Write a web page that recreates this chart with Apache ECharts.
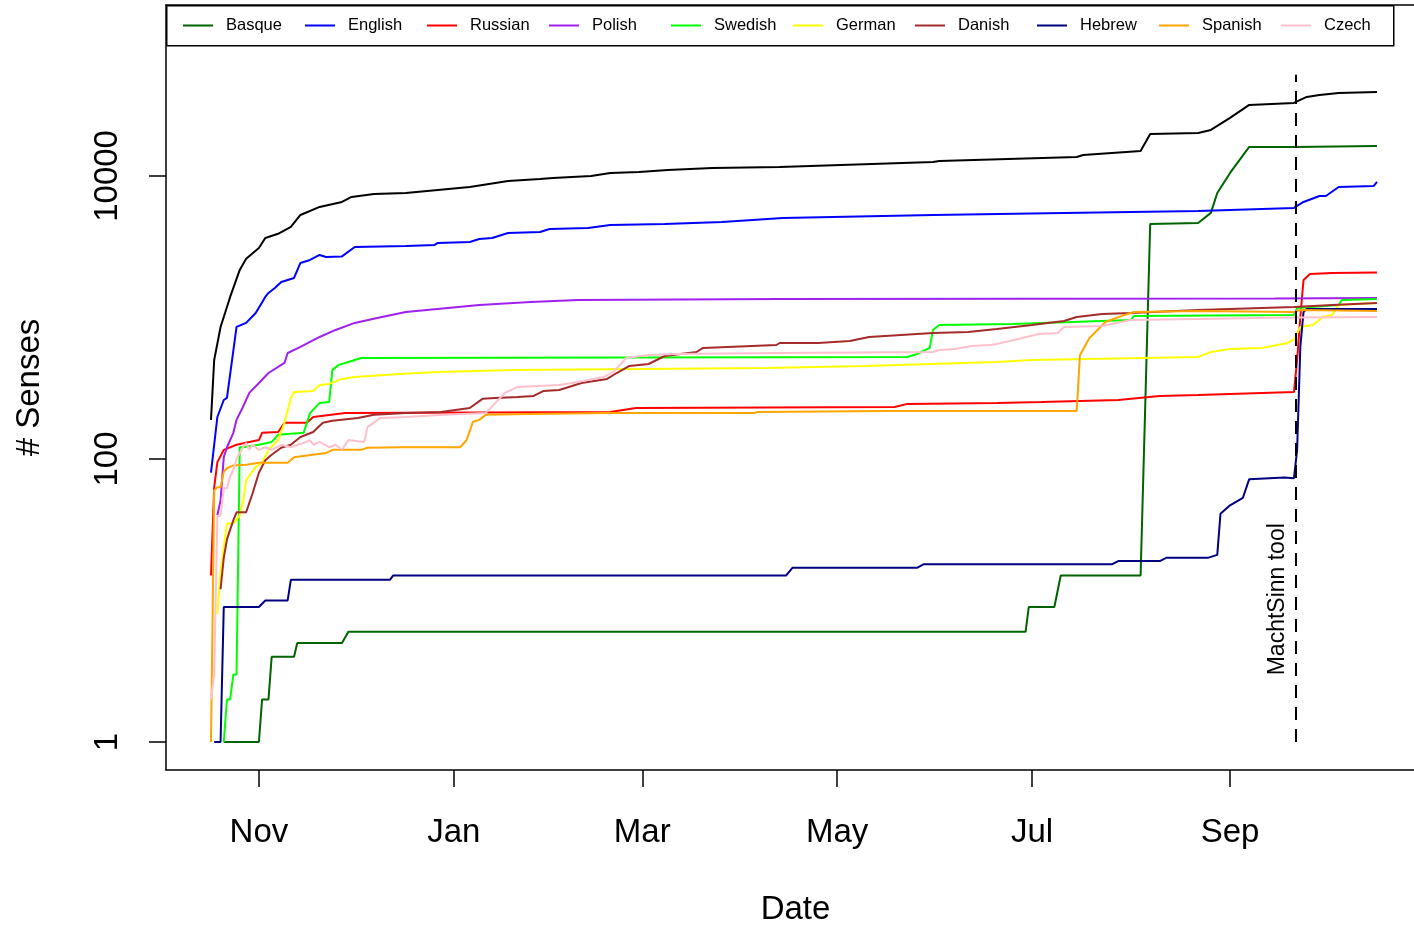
<!DOCTYPE html>
<html>
<head>
<meta charset="utf-8">
<script src="https://cdn.jsdelivr.net/npm/echarts@6/dist/echarts.min.js"></script>
<style>
  html, body { margin: 0; padding: 0; background: #fff; }
  #chart { width: 1414px; height: 925px; }
</style>
</head>
<body>
<div id="chart"></div>
<script>
// ticks
var xTicks = ['2018-11-01', '2019-01-01', '2019-03-01', '2019-05-01', '2019-07-01', '2019-09-01']
var xTickLabels = ['Nov', 'Jan', 'Mar', 'May', 'Jul', 'Sep']
var yTicks = [1, 100, 10000]

// annotation
var machtSinnDate = '2019-09-21T16:00:00'
var machtSinnText = 'MachtSinn tool'

// cumulative senses per day
var total = [['2018-10-17', 189], ['2018-10-18', 500], ['2018-10-20', 857], ['2018-10-23', 1396], ['2018-10-26', 2166],
  ['2018-10-28', 2600], ['2018-11-01', 3098], ['2018-11-03', 3645], ['2018-11-07', 3900], ['2018-11-11', 4360],
  ['2018-11-14', 5300], ['2018-11-20', 6040], ['2018-11-27', 6550], ['2018-11-30', 7110], ['2018-12-07', 7460],
  ['2018-12-17', 7580], ['2018-12-27', 7960], ['2019-01-06', 8360], ['2019-01-14', 8930], ['2019-01-18', 9220],
  ['2019-01-28', 9520], ['2019-02-01', 9680], ['2019-02-13', 10000], ['2019-02-19', 10500], ['2019-02-28', 10670],
  ['2019-03-09', 11030], ['2019-03-23', 11390], ['2019-04-13', 11580], ['2019-05-31', 12560], ['2019-06-02', 12770],
  ['2019-07-15', 13620], ['2019-07-17', 14070], ['2019-08-04', 15030], ['2019-08-07', 19800], ['2019-08-22', 20130],
  ['2019-08-26', 21130], ['2019-09-01', 25700], ['2019-09-07', 31750], ['2019-09-21', 32800], ['2019-09-25', 36150],
  ['2019-09-29', 37350], ['2019-10-05', 38620], ['2019-10-17', 39250]]

var basque = [['2018-10-21', 1], ['2018-11-01', 1], ['2018-11-02', 2], ['2018-11-04', 2], ['2018-11-05', 4],
  ['2018-11-12', 4], ['2018-11-13', 5], ['2018-11-27', 5], ['2018-11-29', 6], ['2019-06-29', 6],
  ['2019-06-30', 9], ['2019-07-08', 9], ['2019-07-10', 15], ['2019-08-04', 15], ['2019-08-07', 4580],
  ['2019-08-22', 4655], ['2019-08-26', 5480], ['2019-08-28', 7580], ['2019-09-01', 10500], ['2019-09-07', 16030],
  ['2019-09-21', 16030], ['2019-10-17', 16300]]

var english = [['2018-10-17', 80], ['2018-10-19', 198], ['2018-10-21', 261], ['2018-10-22', 270], ['2018-10-25', 857],
  ['2018-10-28', 915], ['2018-10-31', 1076], ['2018-11-03', 1396], ['2018-11-04', 1490], ['2018-11-06', 1616],
  ['2018-11-08', 1782], ['2018-11-12', 1901], ['2018-11-14', 2427], ['2018-11-17', 2549], ['2018-11-20', 2766],
  ['2018-11-22', 2677], ['2018-11-27', 2700], ['2018-12-01', 3149], ['2018-12-17', 3200], ['2018-12-26', 3253],
  ['2018-12-27', 3362], ['2019-01-06', 3417], ['2019-01-09', 3588], ['2019-01-13', 3645], ['2019-01-18', 3955],
  ['2019-01-28', 4020], ['2019-01-31', 4220], ['2019-02-12', 4292], ['2019-02-19', 4505], ['2019-03-08', 4580],
  ['2019-03-26', 4730], ['2019-04-14', 5048], ['2019-05-31', 5300], ['2019-07-11', 5480], ['2019-08-22', 5660],
  ['2019-09-21', 5940], ['2019-09-24', 6550], ['2019-09-29', 7220], ['2019-10-01', 7220], ['2019-10-05', 8360],
  ['2019-10-16', 8500], ['2019-10-17', 9070]]

var russian = [['2018-10-17', 15], ['2018-10-18', 63], ['2018-10-19', 95], ['2018-10-21', 116], ['2018-10-25', 126],
  ['2018-10-29', 132], ['2018-11-01', 136], ['2018-11-02', 153], ['2018-11-07', 155], ['2018-11-09', 180],
  ['2018-11-16', 180], ['2018-11-18', 198], ['2018-11-28', 211], ['2019-02-19', 215], ['2019-02-27', 229],
  ['2019-05-19', 233], ['2019-05-23', 245], ['2019-06-20', 249], ['2019-07-04', 253], ['2019-07-28', 261],
  ['2019-08-10', 279], ['2019-08-22', 283], ['2019-09-21', 297], ['2019-09-22', 501], ['2019-09-23', 1008],
  ['2019-09-24', 1841], ['2019-09-26', 2030], ['2019-10-03', 2063], ['2019-10-17', 2080]]

var polish = [['2018-10-19', 40], ['2018-10-20', 51], ['2018-10-21', 103], ['2018-10-22', 121], ['2018-10-24', 153],
  ['2018-10-25', 189], ['2018-10-27', 233], ['2018-10-29', 293], ['2018-11-01', 344], ['2018-11-04', 405],
  ['2018-11-09', 477], ['2018-11-10', 561], ['2018-11-14', 619], ['2018-11-20', 728], ['2018-11-25', 816],
  ['2018-12-01', 915], ['2018-12-08', 992], ['2018-12-17', 1094], ['2019-01-09', 1225], ['2019-01-25', 1288],
  ['2019-02-09', 1330], ['2019-04-13', 1352], ['2019-09-15', 1360], ['2019-10-17', 1370]]

var swedish = [['2018-10-21', 1], ['2018-10-22', 2], ['2018-10-23', 2], ['2018-10-24', 3], ['2018-10-25', 3],
  ['2018-10-26', 121], ['2018-10-27', 121], ['2018-11-01', 126], ['2018-11-05', 132], ['2018-11-07', 148],
  ['2018-11-15', 153], ['2018-11-17', 211], ['2018-11-20', 249], ['2018-11-23', 253], ['2018-11-24', 426],
  ['2018-11-26', 462], ['2018-11-29', 485], ['2018-12-03', 517], ['2019-05-23', 526], ['2019-05-26', 552],
  ['2019-05-30', 609], ['2019-05-31', 816], ['2019-06-02', 885], ['2019-06-25', 900], ['2019-08-01', 960],
  ['2019-08-02', 1025], ['2019-09-21', 1042], ['2019-09-22', 1167], ['2019-10-05', 1225], ['2019-10-06', 1330],
  ['2019-10-17', 1352]]

var german = [['2018-10-19', 8], ['2018-10-20', 16], ['2018-10-22', 35], ['2018-10-24', 35], ['2018-10-26', 40],
  ['2018-10-27', 49], ['2018-10-28', 71], ['2018-10-31', 88], ['2018-11-02', 94], ['2018-11-04', 116],
  ['2018-11-07', 136], ['2018-11-09', 180], ['2018-11-11', 270], ['2018-11-12', 297], ['2018-11-18', 302],
  ['2018-11-20', 333], ['2018-11-23', 339], ['2018-11-27', 368], ['2018-12-01', 380], ['2018-12-15', 399],
  ['2018-12-27', 412], ['2019-01-20', 426], ['2019-04-09', 440], ['2019-05-10', 454], ['2019-06-20', 485],
  ['2019-07-01', 501], ['2019-08-22', 526], ['2019-08-26', 570], ['2019-09-01', 599], ['2019-09-11', 609],
  ['2019-09-19', 660], ['2019-09-21', 700], ['2019-09-23', 857], ['2019-09-27', 885], ['2019-09-30', 1008],
  ['2019-10-03', 1042], ['2019-10-05', 1225], ['2019-10-17', 1266]]

var danish = [['2018-10-20', 12], ['2018-10-21', 20], ['2018-10-22', 27], ['2018-10-24', 37], ['2018-10-25', 42],
  ['2018-10-28', 42], ['2018-10-30', 57], ['2018-11-01', 80], ['2018-11-03', 98], ['2018-11-05', 107],
  ['2018-11-08', 120], ['2018-11-11', 126], ['2018-11-14', 143], ['2018-11-18', 155], ['2018-11-21', 180],
  ['2018-11-24', 186], ['2018-12-02', 195], ['2018-12-07', 205], ['2018-12-17', 211], ['2018-12-28', 215],
  ['2019-01-06', 229], ['2019-01-10', 266], ['2019-01-14', 270], ['2019-01-21', 274], ['2019-01-26', 279],
  ['2019-01-29', 302], ['2019-02-03', 307], ['2019-02-10', 344], ['2019-02-18', 368], ['2019-02-21', 405],
  ['2019-02-25', 454], ['2019-03-03', 469], ['2019-03-08', 534], ['2019-03-18', 570], ['2019-03-20', 609],
  ['2019-04-12', 639], ['2019-04-13', 660], ['2019-04-25', 660], ['2019-05-05', 682], ['2019-05-11', 728],
  ['2019-05-31', 777], ['2019-06-11', 790], ['2019-06-20', 829], ['2019-07-01', 885], ['2019-07-11', 945],
  ['2019-07-15', 1008], ['2019-07-23', 1059], ['2019-08-01', 1076], ['2019-08-22', 1130], ['2019-09-21', 1187],
  ['2019-10-03', 1225], ['2019-10-17', 1266]]

var hebrew = [['2018-10-18', 1], ['2018-10-20', 1], ['2018-10-21', 9], ['2018-11-01', 9], ['2018-11-03', 10],
  ['2018-11-10', 10], ['2018-11-11', 14], ['2018-12-12', 14], ['2018-12-13', 15], ['2019-04-15', 15],
  ['2019-04-17', 17], ['2019-05-26', 17], ['2019-05-28', 18], ['2019-07-26', 18], ['2019-07-28', 19],
  ['2019-08-10', 19], ['2019-08-12', 20], ['2019-08-25', 20], ['2019-08-28', 21], ['2019-08-29', 41],
  ['2019-09-01', 47], ['2019-09-05', 53], ['2019-09-07', 72], ['2019-09-18', 74], ['2019-09-21', 73],
  ['2019-09-22', 116], ['2019-09-23', 619], ['2019-09-24', 1094], ['2019-09-25', 1148], ['2019-10-17', 1148]]

var spanish = [['2018-10-17', 1], ['2018-10-18', 60], ['2018-10-19', 63], ['2018-10-20', 63], ['2018-10-21', 81],
  ['2018-10-22', 86], ['2018-10-24', 90], ['2018-10-28', 91], ['2018-11-01', 94], ['2018-11-10', 94],
  ['2018-11-12', 103], ['2018-11-22', 110], ['2018-11-24', 116], ['2018-12-03', 116], ['2018-12-05', 120],
  ['2018-12-15', 121], ['2019-01-03', 121], ['2019-01-05', 136], ['2019-01-07', 183], ['2019-01-09', 189],
  ['2019-01-11', 205], ['2019-01-24', 208], ['2019-02-18', 211], ['2019-04-05', 211], ['2019-04-06', 215],
  ['2019-05-16', 218], ['2019-07-15', 218], ['2019-07-16', 540], ['2019-07-19', 716], ['2019-07-24', 929],
  ['2019-07-30', 1042], ['2019-08-02', 1094], ['2019-08-22', 1112], ['2019-09-21', 1094], ['2019-09-23', 1130],
  ['2019-10-17', 1112]]

var czech = [['2018-10-17', 2], ['2018-10-18', 3], ['2018-10-19', 39], ['2018-10-20', 40], ['2018-10-21', 62],
  ['2018-10-22', 62], ['2018-10-23', 75], ['2018-10-24', 84], ['2018-10-25', 100], ['2018-10-27', 121],
  ['2018-10-28', 130], ['2018-10-29', 116], ['2018-10-30', 126], ['2018-11-01', 116], ['2018-11-03', 121],
  ['2018-11-05', 116], ['2018-11-08', 126], ['2018-11-11', 121], ['2018-11-15', 130], ['2018-11-17', 136],
  ['2018-11-18', 126], ['2018-11-20', 132], ['2018-11-23', 121], ['2018-11-25', 126], ['2018-11-27', 116],
  ['2018-11-29', 136], ['2018-12-04', 132], ['2018-12-05', 168], ['2018-12-09', 195], ['2018-12-17', 198],
  ['2018-12-29', 205], ['2019-01-11', 211], ['2019-01-17', 293], ['2019-01-21', 323], ['2019-02-03', 333],
  ['2019-02-07', 344], ['2019-02-17', 380], ['2019-02-20', 412], ['2019-02-24', 517], ['2019-03-03', 543],
  ['2019-03-11', 552], ['2019-04-13', 561], ['2019-05-31', 570], ['2019-06-02', 589], ['2019-06-07', 599],
  ['2019-06-12', 629], ['2019-06-18', 639], ['2019-06-20', 650], ['2019-06-28', 716], ['2019-07-03', 764],
  ['2019-07-09', 777], ['2019-07-11', 857], ['2019-07-23', 871], ['2019-08-01', 960], ['2019-09-21', 1000],
  ['2019-10-17', 1008]]

var languages = [
  { name: 'Basque', color: '#006400', data: basque },
  { name: 'English', color: '#0000FF', data: english },
  { name: 'Russian', color: '#FF0000', data: russian },
  { name: 'Polish', color: '#A020F0', data: polish },
  { name: 'Swedish', color: '#00FF00', data: swedish },
  { name: 'German', color: '#FFFF00', data: german },
  { name: 'Danish', color: '#A52A2A', data: danish },
  { name: 'Hebrew', color: '#000080', data: hebrew },
  { name: 'Spanish', color: '#FFA500', data: spanish },
  { name: 'Czech', color: '#FFC0CB', data: czech }
]

var font = 'Liberation Sans, Arial, Helvetica, sans-serif'
// axis ranges (the plot region runs past the right edge of the page)
var xMinDate = '2018-10-02T22:00:00'
var xMaxDate = '2019-10-28T14:00:00'
var yExpMin = -0.198
var yExpMax = 5.208

function t(d) {
  return echarts.time.parse(d).getTime()
}
function toTime(arr) {
  return arr.map(function (p) { return [t(p[0]), p[1]] })
}

var myChart = echarts.init(document.getElementById('chart'))

var xTickTimes = xTicks.map(t)
var xLabelMap = {}
xTickTimes.forEach(function (v, i) {
  xLabelMap[v] = xTickLabels[i]
})

var axisLineStyle = { color: '#000', width: 1.5 }

var series = [{
  name: 'Total',
  type: 'line',
  data: toTime(total),
  showSymbol: false,
  symbol: 'none',
  lineStyle: { color: '#000', width: 2 },
  itemStyle: { color: '#000' },
  markLine: {
    silent: true,
    symbol: ['none', 'none'],
    label: { show: false },
    lineStyle: { color: '#000', width: 2, type: [13, 9] },
    data: [[{ coord: [t(machtSinnDate), 1] }, { coord: [t(machtSinnDate), 51800] }]]
  },
  markPoint: {
    silent: true,
    symbol: 'circle',
    symbolSize: 0,
    label: {
      show: true,
      formatter: machtSinnText,
      rotate: 90,
      position: 'inside',
      fontSize: 23,
      fontFamily: font,
      color: '#000'
    },
    data: [{ coord: [t('2019-09-16'), 10.2] }]
  }
}]

languages.forEach(function (item) {
  series.push({
    name: item.name,
    type: 'line',
    data: toTime(item.data),
    showSymbol: false,
    symbol: 'none',
    lineStyle: { color: item.color, width: 2 },
    itemStyle: { color: item.color }
  })
})

// one legend per language so the entries sit on an even grid, like R's legend
var legends = languages.map(function (l, i) {
  return {
    data: [l.name],
    left: 183 + i * 122,
    top: 17,
    padding: 0,
    itemWidth: 30,
    itemHeight: 2,
    icon: 'rect',
    selectedMode: false,
    z: 5,
    formatter: '{n|{name}}',
    textStyle: {
      fontSize: 16.5,
      color: '#000',
      fontFamily: font,
      rich: {
        n: { fontSize: 16.5, color: '#000', fontFamily: font, padding: [0, 0, 0, 8] }
      }
    }
  }
})

var option = {
  animation: false,
  backgroundColor: '#fff',
  textStyle: { fontFamily: font },
  grid: {
    left: 166,
    top: 5,
    right: 0,
    height: 765,
    show: false,
    containLabel: false,
    outerBoundsMode: 'none'
  },
  graphic: [{
    type: 'rect',
    left: 166,
    top: 5,
    z: 4,
    shape: { width: 1227, height: 40 },
    style: { fill: '#fff', stroke: '#000', lineWidth: 1.5 }
  }],
  legend: legends,
  xAxis: [
    {
      type: 'value',
      min: t(xMinDate),
      max: t(xMaxDate),
      position: 'bottom',
      name: 'Date',
      nameLocation: 'middle',
      nameGap: 123,
      nameTextStyle: { fontSize: 33, color: '#000', fontFamily: font, padding: [0, 0, 0, 11] },
      axisLine: { show: true, onZero: false, lineStyle: axisLineStyle },
      axisTick: { show: true, length: 17, lineStyle: axisLineStyle, customValues: xTickTimes },
      axisLabel: {
        customValues: xTickTimes,
        fontSize: 33,
        color: '#000',
        margin: 46,
        formatter: function (val) {
          return xLabelMap[val] || ''
        }
      },
      splitLine: { show: false }
    },
    {
      // top frame line
      type: 'value',
      min: t(xMinDate),
      max: t(xMaxDate),
      position: 'top',
      axisLine: { show: true, onZero: false, lineStyle: axisLineStyle },
      axisTick: { show: false },
      axisLabel: { show: false },
      splitLine: { show: false }
    }
  ],
  yAxis: [
    {
      // data axis
      type: 'log',
      min: Math.pow(10, yExpMin),
      max: Math.pow(10, yExpMax),
      show: false
    },
    {
      // tick axis in log10 units, same extent
      type: 'value',
      min: yExpMin,
      max: yExpMax,
      position: 'left',
      name: '# Senses',
      nameLocation: 'middle',
      nameGap: 120,
      nameTextStyle: { fontSize: 33, color: '#000', fontFamily: font },
      axisLine: { show: true, onZero: false, lineStyle: axisLineStyle },
      axisTick: {
        show: true,
        length: 17,
        lineStyle: axisLineStyle,
        customValues: yTicks.map(function (v) { return Math.log10(v) })
      },
      axisLabel: {
        customValues: yTicks.map(function (v) { return Math.log10(v) }),
        rotate: 90,
        fontSize: 33,
        color: '#000',
        margin: 42,
        formatter: function (v) {
          return String(Math.round(Math.pow(10, v)))
        }
      },
      splitLine: { show: false }
    }
  ],
  series: series
}

myChart.setOption(option)
window.onresize = function () {
  myChart.resize()
}
</script>
</body>
</html>
